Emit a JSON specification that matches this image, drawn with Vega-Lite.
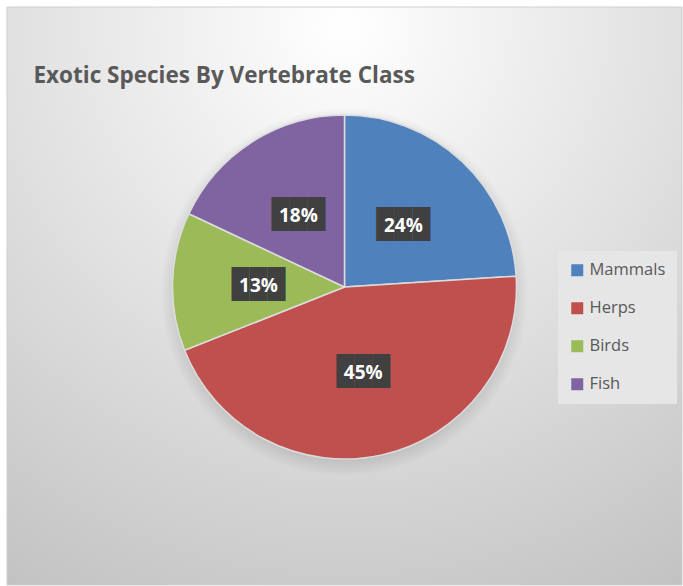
{
  "$schema": "https://vega.github.io/schema/vega-lite/v6.json",
  "width": 683,
  "height": 586,
  "autosize": {"type": "fit", "contains": "padding"},
  "padding": {"left": 6, "top": 6, "right": 0, "bottom": 0},
  "background": "#ffffff",
  "config": {"view": {"stroke": null}},
  "title": {
    "text": "Exotic Species By Vertebrate Class",
    "anchor": "start",
    "orient": "top",
    "offset": -81,
    "dx": 27,
    "font": "Open Sans",
    "fontSize": 22.5,
    "fontWeight": "bold",
    "color": "#595959"
  },
  "data": {
    "values": [
      {"idx": 1, "cls": "Mammals", "pct": 24, "label": "24%"},
      {"idx": 2, "cls": "Herps", "pct": 45, "label": "45%"},
      {"idx": 3, "cls": "Birds", "pct": 13, "label": "13%"},
      {"idx": 4, "cls": "Fish", "pct": 18, "label": "18%"}
    ]
  },
  "layer": [
    {
      "data": {"values": [{"bg": 1}]},
      "mark": {
        "type": "rect",
        "stroke": "#cfcfcf",
        "strokeWidth": 1,
        "color": {
          "gradient": "radial",
          "x1": 0.5, "y1": 0.1, "r1": 0,
          "x2": 0.5, "y2": 0.1, "r2": 1,
          "stops": [
            {"offset": 0, "color": "#ffffff"},
            {"offset": 0.5, "color": "#e0e0e0"},
            {"offset": 1, "color": "#c0c0c0"}
          ]
        }
      },
      "encoding": {}
    },
    {
      "data": {"values": [{"shadow": 1}]},
      "mark": {
        "type": "arc",
        "outerRadius": 184,
        "theta": 0,
        "theta2": 6.2832,
        "yOffset": -4,
        "color": {
          "gradient": "radial",
          "x1": 0.5, "y1": 0.5, "r1": 0,
          "x2": 0.5, "y2": 0.5, "r2": 0.5,
          "stops": [
            {"offset": 0, "color": "rgba(0,0,0,0.12)"},
            {"offset": 0.9, "color": "rgba(0,0,0,0.12)"},
            {"offset": 1, "color": "rgba(0,0,0,0)"}
          ]
        }
      },
      "encoding": {}
    },
    {
      "mark": {"type": "arc", "outerRadius": 172, "stroke": "#dcdcdc", "strokeWidth": 1.5, "yOffset": -9},
      "encoding": {
        "theta": {"field": "pct", "type": "quantitative", "stack": true},
        "order": {"field": "idx", "type": "quantitative"},
        "color": {
          "field": "cls",
          "type": "nominal",
          "scale": {
            "domain": ["Mammals", "Herps", "Birds", "Fish"],
            "range": ["#4f81bd", "#c0504d", "#9bbb59", "#8064a2"]
          },
          "legend": {
            "title": null,
            "orient": "none",
            "legendX": 551,
            "legendY": 244,
            "symbolType": "square",
            "symbolSize": 144,
            "symbolStrokeWidth": 0,
            "labelFont": "Open Sans",
            "labelFontSize": 16.5,
            "labelColor": "#595959",
            "rowPadding": 21,
            "padding": 11,
            "fillColor": "#e6e6e6"
          }
        }
      }
    },
    {
      "mark": {"type": "text", "radius": 86, "yOffset": -9, "font": "Liberation Mono", "fontSize": 30, "color": "#404040", "baseline": "middle", "dy": -1},
      "encoding": {
        "theta": {"field": "pct", "type": "quantitative", "stack": true},
        "order": {"field": "idx", "type": "quantitative"},
        "text": {"value": "███"}
      }
    },
    {
      "mark": {"type": "text", "radius": 86, "yOffset": -9, "font": "Open Sans", "fontSize": 19, "fontWeight": "bold", "color": "#ffffff", "baseline": "middle", "dy": 2},
      "encoding": {
        "theta": {"field": "pct", "type": "quantitative", "stack": true},
        "order": {"field": "idx", "type": "quantitative"},
        "text": {"field": "label"}
      }
    }
  ]
}
